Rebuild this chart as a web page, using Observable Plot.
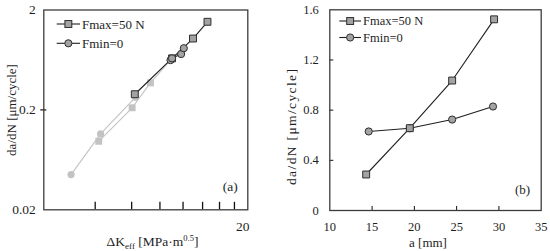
<!DOCTYPE html>
<html>
<head>
<meta charset="utf-8">
<script src="https://cdn.jsdelivr.net/npm/d3@7"></script>
<script src="https://cdn.jsdelivr.net/npm/@observablehq/plot@0.6"></script>
<style>
  html, body { margin: 0; padding: 0; background: #fff; }
  #wrap { display: flex; width: 550px; height: 251px; }
  svg { display: block; }
</style>
</head>
<body>
<div id="wrap"></div>
<script>
// ---------- Panel (a): da/dN vs ΔKeff (log-log) ----------
const kFmaxLight = [6.17, 8.03, 9.28];
const rateFmaxLight = [0.097, 0.21, 0.373];
const kFminLight = [4.96, 6.26, 8.25];
const rateFminLight = [0.045, 0.115, 0.268];
const kFmax = [8.2, 11.0, 12.98, 14.55];
const kFmin = [10.87, 11.0, 11.82, 12.07];
const xTickLabelsA = [4, 20];
const xMinorTicksA = [6, 8, 10, 12, 14, 16, 18];
const yTicksA = [0.02, 0.2, 2];

// ---------- Panel (b): da/dN vs a ----------
const aFmax = [14.3, 19.46, 24.47, 29.43];
const rateFmax = [0.287, 0.656, 1.036, 1.524];
const aFmin = [14.6, 19.46, 24.47, 29.3];
const rateFmin = [0.63, 0.656, 0.725, 0.829];
const xTicksB = [10, 15, 20, 25, 30, 35];
const yTicksB = [0, 0.4, 0.8, 1.2, 1.6];

const seriesNames = ["Fmax=50 N", "Fmin=0"];

// ---------- build tables ----------
const zip = (xs, ys) => xs.map((x, i) => ({x, y: ys[i]}));
const aFmaxDark = zip(kFmax, rateFmax);
const aFminDark = zip(kFmin, rateFmin);
const aFmaxLightPts = zip(kFmaxLight, rateFmaxLight);
const aFminLightPts = zip(kFminLight, rateFminLight);
const aFmaxLightLine = aFmaxLightPts.concat([aFmaxDark[1]]);
const bFmax = zip(aFmax, rateFmax);
const bFmin = zip(aFmin, rateFmin);

// ---------- styles ----------
const FONT = "Liberation Serif, Times New Roman, serif";
const TXT = "#1e1e1e";
const FRAME = "#3c3c3c";
const DARK_LINE = "#1f1f1f";
const DARK_FILL = "#a3a3a3";
const DARK_STROKE = "#2e2e2e";
const LIGHT = "#c3c3c3";
const SQ_R = 3.9, CI_R = 3.6;

const W = 275, H = 251;

// Panel (a) geometry
const mA = {l: 43.3, r: 27.7, t: 9.5, b: 41.7};
const fwA = W - mA.l - mA.r, fhA = H - mA.t - mA.b;
// Panel (b) geometry
const mB = {l: 54.3, r: 9.3, t: 9.3, b: 41};
const fwB = W - mB.l - mB.r, fhB = H - mB.t - mB.b;

const fmt = d => String(d);

const left = Plot.plot({
  width: W, height: H,
  marginLeft: mA.l, marginRight: mA.r, marginTop: mA.t, marginBottom: mA.b,
  x: {type: "log", domain: [4, 20]},
  y: {type: "log", domain: [0.02, 2]},
  style: {fontFamily: FONT, fontSize: "13.5px", color: TXT, background: "#fff", overflow: "visible"},
  marks: [
    Plot.axisX([xTickLabelsA[0]], {tickSize: 0, tickPadding: 11.5, tickFormat: fmt, label: null, fill: TXT}),
    Plot.axisX([xTickLabelsA[1]], {tickSize: 0, tickPadding: 11.5, tickFormat: fmt, label: null, dx: -5, fill: TXT}),
    Plot.axisY(yTicksA, {tickSize: 0, tickPadding: 8, tickFormat: fmt, label: null, fill: TXT}),
    Plot.ruleX(xMinorTicksA, {x: d => d, insetTop: fhA - 7.5, stroke: "#111", strokeWidth: 1.3}),
    Plot.ruleY([yTicksA[1]], {y: d => d, insetLeft: -3, insetRight: fwA - 3, stroke: "#111", strokeWidth: 1.2}),
    // light (faded) series
    Plot.line(aFminLightPts, {x: "x", y: "y", stroke: LIGHT, strokeWidth: 1.1}),
    Plot.line(aFmaxLightLine, {x: "x", y: "y", stroke: LIGHT, strokeWidth: 1.1}),
    Plot.dot(aFminLightPts, {x: "x", y: "y", r: CI_R, symbol: "circle", fill: LIGHT, stroke: "none"}),
    Plot.dot(aFmaxLightPts, {x: "x", y: "y", r: SQ_R, symbol: "square", fill: LIGHT, stroke: "none"}),
    // dark series
    Plot.line(aFmaxDark, {x: "x", y: "y", stroke: DARK_LINE, strokeWidth: 1.1}),
    Plot.line(aFminDark, {x: "x", y: "y", stroke: DARK_LINE, strokeWidth: 1.1}),
    Plot.dot(aFmaxDark, {x: "x", y: "y", r: SQ_R, symbol: "square", fill: DARK_FILL, stroke: DARK_STROKE, strokeWidth: 1}),
    Plot.dot(aFminDark, {x: "x", y: "y", r: CI_R, symbol: "circle", fill: DARK_FILL, stroke: DARK_STROKE, strokeWidth: 1}),
    Plot.frame({stroke: FRAME, strokeWidth: 1.3}),
    Plot.text(["(a)"], {frameAnchor: "bottom-right", textAnchor: "end", lineAnchor: "middle", dx: -10, dy: -23, fontSize: 13.5, fill: TXT})
  ]
});

const right = Plot.plot({
  width: W, height: H,
  marginLeft: mB.l, marginRight: mB.r, marginTop: mB.t, marginBottom: mB.b,
  x: {domain: [10, 35]},
  y: {domain: [0, 1.6]},
  style: {fontFamily: FONT, fontSize: "12.5px", color: TXT, background: "#fff", overflow: "visible"},
  marks: [
    Plot.axisX(xTicksB, {tickSize: 0, tickPadding: 11.5, tickFormat: fmt, label: null, fill: TXT}),
    Plot.axisY(yTicksB, {tickSize: 0, tickPadding: 11, tickFormat: fmt, label: null, fill: TXT}),
    Plot.ruleX(xTicksB.slice(1, -1), {x: d => d, insetTop: fhB - 4, stroke: "#111", strokeWidth: 1}),
    Plot.ruleY(yTicksB.slice(1, -1), {y: d => d, insetRight: fwB - 4, stroke: "#111", strokeWidth: 1}),
    Plot.line(bFmin, {x: "x", y: "y", stroke: DARK_LINE, strokeWidth: 1.1}),
    Plot.line(bFmax, {x: "x", y: "y", stroke: DARK_LINE, strokeWidth: 1.1}),
    Plot.dot(bFmin, {x: "x", y: "y", r: CI_R, symbol: "circle", fill: DARK_FILL, stroke: DARK_STROKE, strokeWidth: 1}),
    Plot.dot(bFmax, {x: "x", y: "y", r: SQ_R, symbol: "square", fill: DARK_FILL, stroke: DARK_STROKE, strokeWidth: 1}),
    Plot.frame({stroke: FRAME, strokeWidth: 1.3}),
    Plot.text(["(b)"], {frameAnchor: "bottom-right", textAnchor: "end", lineAnchor: "middle", dx: -11, dy: -20.5, fontSize: 13, fill: TXT})
  ]
});

const wrap = document.getElementById("wrap");
wrap.appendChild(left);
wrap.appendChild(right);

// ---------- legends and axis titles ----------
function legend(svg, x0, x1, y, symbol, label, fs) {
  const g = d3.select(svg).append("g");
  g.append("line").attr("x1", x0).attr("x2", x1).attr("y1", y).attr("y2", y)
    .attr("stroke", DARK_LINE).attr("stroke-width", 1.1);
  const cx = (x0 + x1) / 2;
  if (symbol === "square") {
    const s = SQ_R * Math.sqrt(Math.PI);
    g.append("rect").attr("x", cx - s / 2).attr("y", y - s / 2).attr("width", s).attr("height", s)
      .attr("fill", DARK_FILL).attr("stroke", DARK_STROKE).attr("stroke-width", 1);
  } else {
    g.append("circle").attr("cx", cx).attr("cy", y).attr("r", CI_R)
      .attr("fill", DARK_FILL).attr("stroke", DARK_STROKE).attr("stroke-width", 1);
  }
  g.append("text").attr("x", x1 + 2).attr("y", y).attr("dy", "0.35em")
    .attr("text-anchor", "start")
    .attr("font-family", FONT).attr("font-size", fs).attr("fill", TXT).text(label);
}
legend(left, 56.7, 80, 24, "square", seriesNames[0], 13);
legend(left, 56.7, 80, 43.3, "circle", seriesNames[1], 13);
legend(right, 339.3 - W, 361 - W, 21, "square", seriesNames[0], 12.5);
legend(right, 339.3 - W, 361 - W, 37.5, "circle", seriesNames[1], 12.5);

// left y title
d3.select(left).append("text")
  .attr("transform", "translate(16,110) rotate(-90)")
  .attr("text-anchor", "middle").attr("font-family", FONT).attr("font-size", 13).attr("fill", TXT)
  .text("da/dN [μm/cycle]");
// left x title with sub/superscript
{
  const t = d3.select(left).append("text")
    .attr("x", 152.5).attr("y", 246).attr("text-anchor", "middle")
    .attr("font-family", FONT).attr("font-size", 13.5).attr("fill", TXT);
  t.append("tspan").text("ΔK");
  t.append("tspan").attr("font-size", 9).attr("dy", 2.5).text("eff");
  t.append("tspan").attr("dy", -2.5).text(" [MPa·m");
  t.append("tspan").attr("font-size", 8.5).attr("dy", -5).text("0.5");
  t.append("tspan").attr("dy", 5).text("]");
}
// right y title
d3.select(right).append("text")
  .attr("transform", `translate(${296 - W},127) rotate(-90)`)
  .attr("text-anchor", "middle").attr("font-family", FONT).attr("font-size", 13.5).attr("fill", TXT)
  .attr("textLength", 116).attr("lengthAdjust", "spacing")
  .text("da/dN [μm/cycle]");
// right x title
d3.select(right).append("text")
  .attr("x", 428 - W).attr("y", 246.5).attr("text-anchor", "middle")
  .attr("font-family", FONT).attr("font-size", 13).attr("fill", TXT)
  .text("a [mm]");
</script>
</body>
</html>
